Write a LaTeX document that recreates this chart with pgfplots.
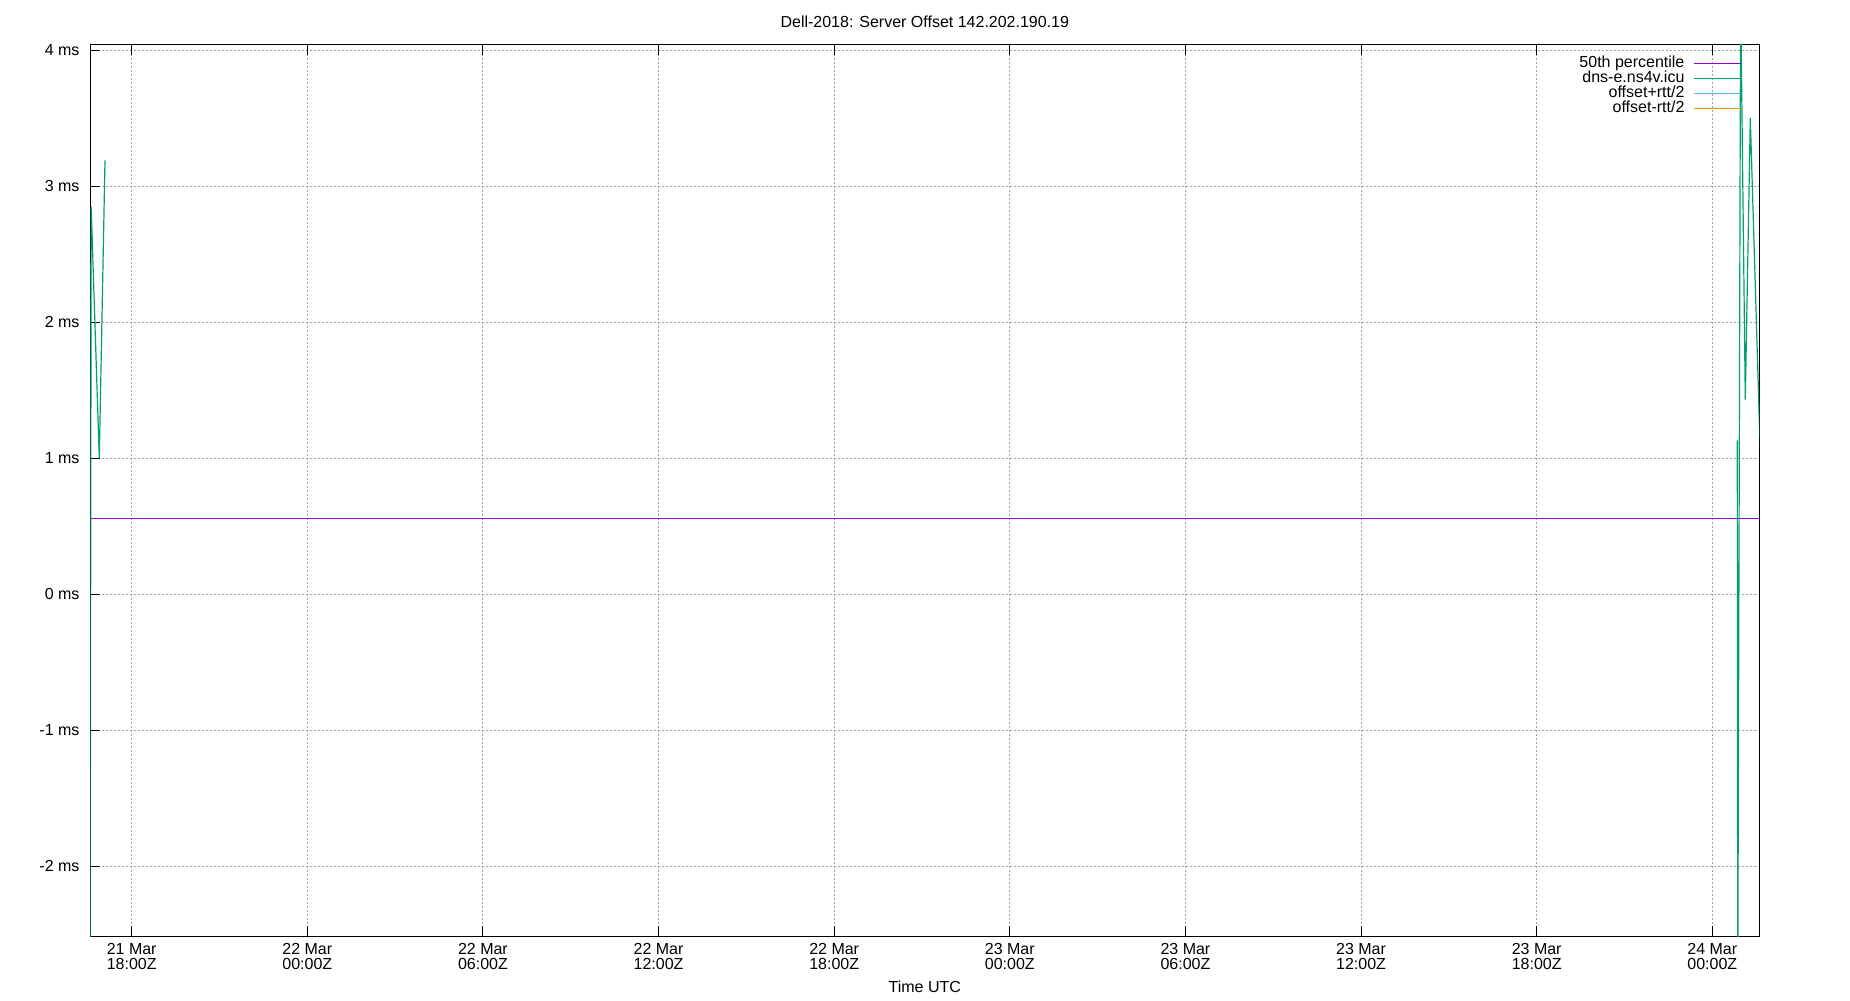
\documentclass[border=0pt]{standalone}
\usepackage{fontspec}
\setmainfont{Liberation Sans}
\usepackage{pgfplots}
\pgfplotsset{compat=1.18}

% gnuplot default palette
\definecolor{gpPurple}{HTML}{9400D3}
\definecolor{gpGreen}{HTML}{009E73}
\definecolor{gpBlue}{HTML}{56B4E9}
\definecolor{gpOrange}{HTML}{E69F00}
\definecolor{gpGrid}{HTML}{A0A0A0}

\begin{document}
\begin{tikzpicture}
\useasboundingbox (0,0) rectangle (925pt,500pt);
\begin{axis}[
  at={(45.15pt,31.85pt)}, anchor=south west,
  scale only axis, width=834.5pt, height=445.65pt,
  % x in hours since 21 Mar 00:00Z
  xmin=16.586, xmax=73.606, ymin=-2.517, ymax=4.039,
  xtick={18,24,...,72},
  xticklabels={{21 Mar\\18:00Z},{22 Mar\\00:00Z},{22 Mar\\06:00Z},{22 Mar\\12:00Z},{22 Mar\\18:00Z},
               {23 Mar\\00:00Z},{23 Mar\\06:00Z},{23 Mar\\12:00Z},{23 Mar\\18:00Z},{24 Mar\\00:00Z}},
  ytick={-2,-1,0,1,2,3,4},
  yticklabels={-2 ms,-1 ms,0 ms,1 ms,2 ms,3 ms,4 ms},
  xtick pos=both, ytick pos=left, tick align=inside,
  major tick length=5pt,
  tick style={black, line width=0.5pt},
  axis line style={black, line width=0.5pt},
  grid=major,
  major grid style={gpGrid, line width=0.5pt, dash pattern=on 1pt off 1pt},
  font=\fontsize{8}{7.5}\selectfont,
  xticklabel style={align=center, anchor=north, inner sep=0pt, yshift=-3.5pt,
                    font=\fontsize{8}{7.5}\selectfont},
  yticklabel style={anchor=east, inner sep=0pt, xshift=-5.2pt},
  title={Dell-2018: Server Offset 142.202.190.19},
  title style={at={(0.5,1)}, anchor=base, yshift=2.9pt, inner sep=0pt},
  xlabel={Time UTC},
  xlabel style={at={(0.5,0)}, anchor=base, yshift=-28.35pt, inner sep=0pt},
  legend plot pos=right, legend cell align=right,
  legend image code/.code={\draw[#1] (0pt,0pt) -- (23.35pt,0pt);},
  legend style={draw=none, fill=none, at={(1,1)}, anchor=north east,
                xshift=-8.8pt, yshift=-5.05pt, inner sep=0pt, row sep=0pt,
                font=\fontsize{8}{7.5}\selectfont,
                nodes={inner sep=0pt, text height=5.8pt, text depth=1.75pt},
                /tikz/every odd column/.append style={column sep=4.5pt}},
]
\addplot[gpPurple, line width=0.5pt] coordinates {(16.586,0.558) (73.606,0.558)};
\addplot[gpGreen, line width=0.6pt] coordinates {
  (16.575,-3.5) (16.616,2.85) (16.893,1.00) (17.088,3.19)
};
\addlegendimage{gpBlue, line width=0.5pt}
\addlegendimage{gpOrange, line width=0.5pt}
\addplot[gpGreen, line width=0.6pt, forget plot] coordinates {
  (72.854,1.13) (72.868,-3.0) (72.967,4.4) (73.127,1.43) (73.298,3.50) (73.700,0.60)
};
\legend{50th percentile, dns-e.ns4v.icu, offset+rtt/2, offset-rtt/2}
\end{axis}
\end{tikzpicture}
\end{document}
